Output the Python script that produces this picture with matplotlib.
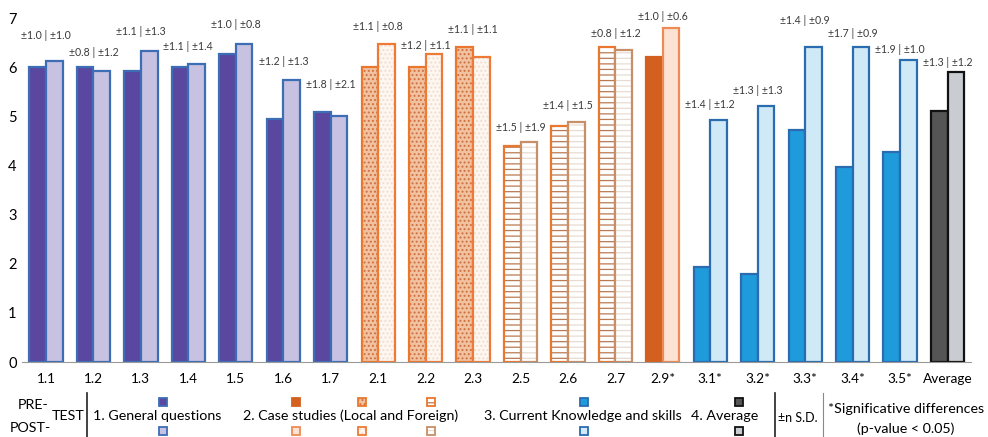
import matplotlib
matplotlib.use("Agg")
import matplotlib.pyplot as plt
from matplotlib.patches import Rectangle
import numpy as np

plt.rcParams['font.family'] = ['Lato', 'DejaVu Sans']
plt.rcParams['hatch.linewidth'] = 0.9

# data
items = ["1.1", "1.2", "1.3", "1.4", "1.5", "1.6", "1.7",
         "2.1", "2.2", "2.3", "2.5", "2.6", "2.7", "2.9*",
         "3.1*", "3.2*", "3.3*", "3.4*", "3.5*", "Average"]
pre = [6.0, 6.0, 5.93, 6.0, 6.26, 4.95, 5.08,
       6.0, 6.0, 6.4, 4.4, 4.8, 6.41, 6.2,
       1.94, 1.8, 4.73, 3.96, 4.27, 5.1]
post = [6.12, 5.93, 6.33, 6.06, 6.47, 5.73, 5.0,
        6.47, 6.27, 6.2, 4.47, 4.88, 6.35, 6.8,
        4.92, 5.2, 6.41, 6.41, 6.14, 5.9]
sd_pre = ["1.0", "0.8", "1.1", "1.1", "1.0", "1.2", "1.8",
          "1.1", "1.2", "1.1", "1.5", "1.4", "0.8", "1.0",
          "1.4", "1.3", "1.4", "1.7", "1.9", "1.3"]
sd_post = ["1.0", "1.2", "1.3", "1.4", "0.8", "1.3", "2.1",
           "0.8", "1.1", "1.1", "1.9", "1.5", "1.2", "0.6",
           "1.2", "1.3", "0.9", "0.9", "1.0", "1.2"]
# style key for each item
kind = ["g1"] * 7 + ["dots"] * 3 + ["lines"] * 3 + ["solid2"] + ["g3"] * 5 + ["avg"]

# layout: how far each S.D. label sits above its taller bar (staggered like the original)
label_lift = [0.53, 0.3, 0.4, 0.35, 0.39, 0.39, 0.57,
              0.35, 0.18, 0.36, 0.31, 0.34, 0.28, 0.24,
              0.32, 0.33, 0.53, 0.27, 0.21, 0.2]

# (face, hatch, hatch colour, edge) for pre and post bars
styles = {
    "g1": (("#5A47A0", None, None, "#3D6DB5"), ("#C8C2E2", None, None, "#3D6DB5")),
    "dots": (("#F0C2A2", "....", "#D0703A", "#E9772F"), ("#FDF6F1", "....", "#F4DCCB", "#EE7A36")),
    "lines": (("#FFFFFF", "---", "#B87A52", "#E9772F"), ("#FFFFFF", "---", "#E8DCD2", "#C88E68")),
    "solid2": (("#D4601F", None, None, "#D4601F"), ("#FBE2D2", None, None, "#EE8A55")),
    "g3": (("#1F9BDB", None, None, "#2B6CB0"), ("#CFEAF6", None, None, "#2B6CB0")),
    "avg": (("#555555", None, None, "#111111"), ("#C9CDD1", None, None, "#111111")),
}

W, H = 988, 437
fig = plt.figure(figsize=(W / 100, H / 100), dpi=100)
step = 47.45
ax = fig.add_axes([(46 - step / 2) / W, 1 - 362 / H, 20 * step / W, (362 - 18) / H])

x = np.arange(len(items))
bw = 0.35


def draw_bar(xpos, val, st):
    face, hatch, hcol, edge = st
    if hatch:
        ax.bar(xpos, val, bw, color=face, edgecolor=hcol, hatch=hatch, linewidth=0)
        ax.bar(xpos, val, bw, fill=False, edgecolor=edge, linewidth=1.6)
    else:
        ax.bar(xpos, val, bw, color=face, edgecolor=edge, linewidth=1.6)


for i in range(len(items)):
    spre, spost = styles[kind[i]]
    draw_bar(x[i] - bw / 2, pre[i], spre)
    draw_bar(x[i] + bw / 2, post[i], spost)
    top = max(pre[i], post[i])
    ax.text(x[i], top + label_lift[i], "±%s | ±%s" % (sd_pre[i], sd_post[i]),
            ha="center", va="center", fontsize=7.6, color="#3a3a3a")

ax.set_xlim(-0.5, len(items) - 0.5)
ax.set_ylim(0, 7)
ax.set_xticks(x)
ax.set_xticklabels(items, fontsize=9.8)
ax.set_yticks(range(8))
ax.tick_params(axis="y", labelsize=10.5, length=0, pad=4)
ax.tick_params(axis="x", length=0, pad=8)
for s in ["top", "right", "left"]:
    ax.spines[s].set_visible(False)
ax.spines["bottom"].set_color("#9a9a9a")
ax.set_facecolor("none")


# legend strip below the chart, laid out in pixel coordinates
def ftext(px, py, s, **kw):
    fig.text(px / W, 1 - py / H, s, **kw)


def swatch(px, py, st, size=8):
    face, hatch, hcol, edge = st
    xy = ((px - size / 2) / W, 1 - (py + size / 2) / H)
    wh = (size / W, size / H)
    if hatch:
        fig.add_artist(Rectangle(xy, *wh, transform=fig.transFigure, facecolor=face,
                                 edgecolor=hcol, hatch=hatch, linewidth=0))
        fig.add_artist(Rectangle(xy, *wh, transform=fig.transFigure, fill=False,
                                 edgecolor=edge, linewidth=1.3))
    else:
        fig.add_artist(Rectangle(xy, *wh, transform=fig.transFigure, facecolor=face,
                                 edgecolor=edge, linewidth=1.3))


def vline(px, y0, y1, color="#222222", lw=1.2):
    fig.add_artist(plt.Line2D([px / W, px / W], [1 - y0 / H, 1 - y1 / H],
                              transform=fig.transFigure, color=color, linewidth=lw))


fs = 10.3
ftext(33, 405, "PRE-", ha="center", va="center", fontsize=fs)
ftext(30, 428, "POST-", ha="center", va="center", fontsize=fs)
ftext(68, 416, "TEST", ha="center", va="center", fontsize=fs)
vline(87, 393, 437)
ftext(93, 416, "1. General questions", ha="left", va="center", fontsize=fs)
ftext(243, 416, "2. Case studies (Local and Foreign)", ha="left", va="center", fontsize=fs)
ftext(484, 416, "3. Current Knowledge and skills", ha="left", va="center", fontsize=fs)
ftext(691, 416, "4. Average", ha="left", va="center", fontsize=fs)
vline(775, 393, 437)
ftext(798, 418, "±n S.D.", ha="center", va="center", fontsize=9)
vline(823, 393, 437, color="#888888", lw=0.8)
ftext(906, 409, "*Significative differences", ha="center", va="center", fontsize=fs)
ftext(906, 429, "(p-value < 0.05)", ha="center", va="center", fontsize=fs)

legend_cols = [(163, "g1"), (296, "solid2"), (362, "dots"), (431, "lines"),
               (584, "g3"), (739, "avg")]
for px, k in legend_cols:
    spre, spost = styles[k]
    swatch(px, 402, spre)
    swatch(px, 431, spost)

fig.savefig("out.png", dpi=100)
